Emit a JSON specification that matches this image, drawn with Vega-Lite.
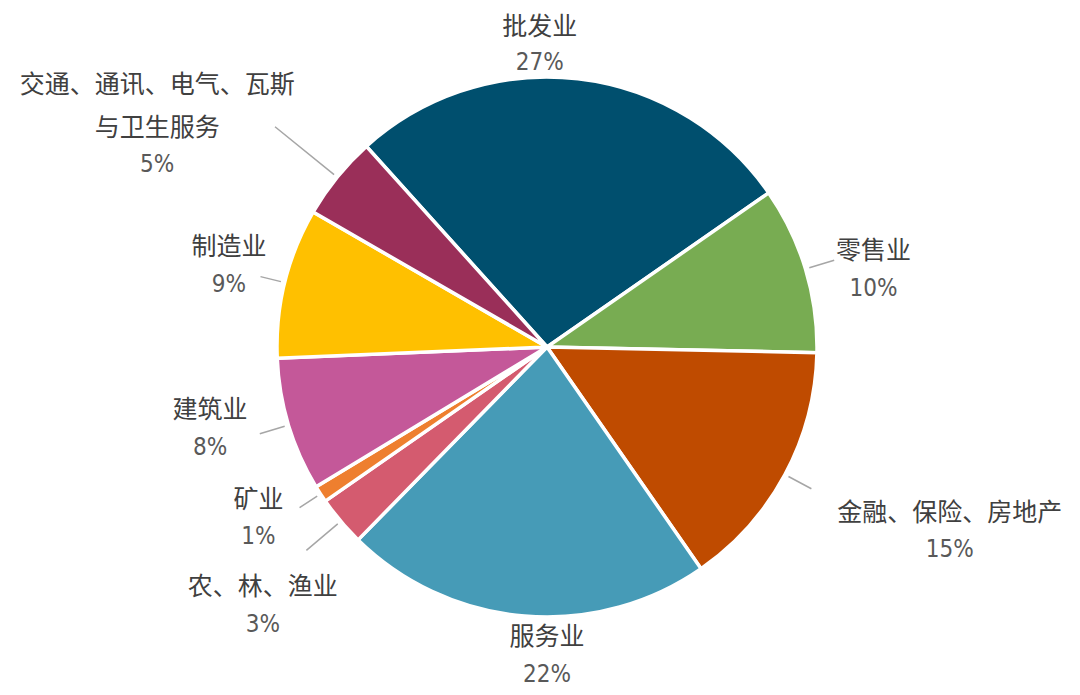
{
  "$schema": "https://vega.github.io/schema/vega-lite/v6.json",
  "width": 1066,
  "height": 694,
  "autosize": {"type": "none"},
  "padding": {"left": 14, "top": 0, "right": 0, "bottom": 0},
  "background": "white",
  "view": {"stroke": null},
  "data": {
    "values": [
      {"idx": 1, "name": "批发业", "value": 27, "label": "27%"},
      {"idx": 2, "name": "零售业", "value": 10, "label": "10%"},
      {"idx": 3, "name": "金融、保险、房地产", "value": 15, "label": "15%"},
      {"idx": 4, "name": "服务业", "value": 22, "label": "22%"},
      {"idx": 5, "name": "农、林、渔业", "value": 3, "label": "3%"},
      {"idx": 6, "name": "矿业", "value": 1, "label": "1%"},
      {"idx": 7, "name": "建筑业", "value": 8, "label": "8%"},
      {"idx": 8, "name": "制造业", "value": 9, "label": "9%"},
      {"idx": 9, "name": "交通、通讯、电气、瓦斯\n与卫生服务", "value": 5, "label": "5%"}
    ]
  },
  "encoding": {
    "theta": {"field": "value", "type": "quantitative", "stack": true, "scale": {"range": [-0.733, 5.5502]}},
    "order": {"field": "idx", "type": "quantitative"}
  },
  "layer": [
    {
      "mark": {"type": "arc", "radius": 270, "stroke": "white", "strokeWidth": 3.5},
      "encoding": {
        "color": {
          "field": "idx", "type": "nominal", "legend": null,
          "scale": {"domain": [1,2,3,4,5,6,7,8,9], "range": ["#004F6E", "#78AC52", "#BF4B00", "#469BB7", "#D45B6F", "#EE7F2F", "#C45899", "#FFC000", "#9A2F59"]}
        }
      }
    },
    {"mark": {"type": "arc", "radius": 300, "radius2": 274, "padAngle": 3, "fill": null, "stroke": "#A6A6A6", "strokeWidth": 1.5},
     "encoding": {"detail": {"field": "idx"}, "strokeOpacity": {"condition": {"test": "indexof([2,3,7], datum.idx) >= 0", "value": 1}, "value": 0}}},
    {"mark": {"type": "arc", "radius": 295, "radius2": 274, "padAngle": 3, "fill": null, "stroke": "#A6A6A6", "strokeWidth": 1.5},
     "encoding": {"detail": {"field": "idx"}, "strokeOpacity": {"condition": {"test": "indexof([6,8], datum.idx) >= 0", "value": 1}, "value": 0}}},
    {"mark": {"type": "arc", "radius": 315, "radius2": 274, "padAngle": 3, "fill": null, "stroke": "#A6A6A6", "strokeWidth": 1.5},
     "encoding": {"detail": {"field": "idx"}, "strokeOpacity": {"condition": {"test": "datum.idx === 5", "value": 1}, "value": 0}}},
    {"mark": {"type": "arc", "radius": 350, "radius2": 274, "padAngle": 3, "fill": null, "stroke": "#A6A6A6", "strokeWidth": 1.5},
     "encoding": {"detail": {"field": "idx"}, "strokeOpacity": {"condition": {"test": "datum.idx === 9", "value": 1}, "value": 0}}},

    {"mark": {"type": "text", "radius": 302, "dx": -42, "dy": -20, "align": "center", "baseline": "middle", "font": "Noto Sans CJK SC", "fontSize": 25, "color": "#404040"},
     "encoding": {"detail": {"field": "idx"}, "text": {"field": "name"}, "opacity": {"condition": {"test": "datum.idx === 1", "value": 1}, "value": 0}}},
    {"mark": {"type": "text", "radius": 302, "dx": -42, "dy": 16, "align": "center", "baseline": "middle", "font": "'Liberation Sans Narrow', 'DejaVu Sans Condensed', 'Liberation Sans', sans-serif", "fontSize": 24, "color": "#595959"},
     "encoding": {"detail": {"field": "idx"}, "text": {"field": "label"}, "opacity": {"condition": {"test": "datum.idx === 1", "value": 1}, "value": 0}}},

    {"mark": {"type": "text", "radius": 341, "dx": 0, "dy": 3, "align": "center", "baseline": "middle", "font": "Noto Sans CJK SC", "fontSize": 25, "color": "#404040"},
     "encoding": {"detail": {"field": "idx"}, "text": {"field": "name"}, "opacity": {"condition": {"test": "datum.idx === 2", "value": 1}, "value": 0}}},
    {"mark": {"type": "text", "radius": 341, "dx": 0, "dy": 41, "align": "center", "baseline": "middle", "font": "'Liberation Sans Narrow', 'DejaVu Sans Condensed', 'Liberation Sans', sans-serif", "fontSize": 24, "color": "#595959"},
     "encoding": {"detail": {"field": "idx"}, "text": {"field": "label"}, "opacity": {"condition": {"test": "datum.idx === 2", "value": 1}, "value": 0}}},

    {"mark": {"type": "text", "radius": 390, "dx": 59, "dy": -18, "align": "center", "baseline": "middle", "font": "Noto Sans CJK SC", "fontSize": 25, "color": "#404040"},
     "encoding": {"detail": {"field": "idx"}, "text": {"field": "name"}, "opacity": {"condition": {"test": "datum.idx === 3", "value": 1}, "value": 0}}},
    {"mark": {"type": "text", "radius": 390, "dx": 59, "dy": 19, "align": "center", "baseline": "middle", "font": "'Liberation Sans Narrow', 'DejaVu Sans Condensed', 'Liberation Sans', sans-serif", "fontSize": 24, "color": "#595959"},
     "encoding": {"detail": {"field": "idx"}, "text": {"field": "label"}, "opacity": {"condition": {"test": "datum.idx === 3", "value": 1}, "value": 0}}},

    {"mark": {"type": "text", "radius": 310, "dx": 26, "dy": -19, "align": "center", "baseline": "middle", "font": "Noto Sans CJK SC", "fontSize": 25, "color": "#404040"},
     "encoding": {"detail": {"field": "idx"}, "text": {"field": "name"}, "opacity": {"condition": {"test": "datum.idx === 4", "value": 1}, "value": 0}}},
    {"mark": {"type": "text", "radius": 310, "dx": 26, "dy": 19, "align": "center", "baseline": "middle", "font": "'Liberation Sans Narrow', 'DejaVu Sans Condensed', 'Liberation Sans', sans-serif", "fontSize": 24, "color": "#595959"},
     "encoding": {"detail": {"field": "idx"}, "text": {"field": "label"}, "opacity": {"condition": {"test": "datum.idx === 4", "value": 1}, "value": 0}}},

    {"mark": {"type": "text", "radius": 372, "dx": 0, "dy": 0, "align": "center", "baseline": "middle", "font": "Noto Sans CJK SC", "fontSize": 25, "color": "#404040"},
     "encoding": {"detail": {"field": "idx"}, "text": {"field": "name"}, "opacity": {"condition": {"test": "datum.idx === 5", "value": 1}, "value": 0}}},
    {"mark": {"type": "text", "radius": 372, "dx": 0, "dy": 38, "align": "center", "baseline": "middle", "font": "'Liberation Sans Narrow', 'DejaVu Sans Condensed', 'Liberation Sans', sans-serif", "fontSize": 24, "color": "#595959"},
     "encoding": {"detail": {"field": "idx"}, "text": {"field": "label"}, "opacity": {"condition": {"test": "datum.idx === 5", "value": 1}, "value": 0}}},

    {"mark": {"type": "text", "radius": 344, "dx": 0, "dy": -34, "align": "center", "baseline": "middle", "font": "Noto Sans CJK SC", "fontSize": 25, "color": "#404040"},
     "encoding": {"detail": {"field": "idx"}, "text": {"field": "name"}, "opacity": {"condition": {"test": "datum.idx === 6", "value": 1}, "value": 0}}},
    {"mark": {"type": "text", "radius": 344, "dx": 0, "dy": 3, "align": "center", "baseline": "middle", "font": "'Liberation Sans Narrow', 'DejaVu Sans Condensed', 'Liberation Sans', sans-serif", "fontSize": 24, "color": "#595959"},
     "encoding": {"detail": {"field": "idx"}, "text": {"field": "label"}, "opacity": {"condition": {"test": "datum.idx === 6", "value": 1}, "value": 0}}},

    {"mark": {"type": "text", "radius": 352, "dx": 0, "dy": -39, "align": "center", "baseline": "middle", "font": "Noto Sans CJK SC", "fontSize": 25, "color": "#404040"},
     "encoding": {"detail": {"field": "idx"}, "text": {"field": "name"}, "opacity": {"condition": {"test": "datum.idx === 7", "value": 1}, "value": 0}}},
    {"mark": {"type": "text", "radius": 352, "dx": 0, "dy": -1, "align": "center", "baseline": "middle", "font": "'Liberation Sans Narrow', 'DejaVu Sans Condensed', 'Liberation Sans', sans-serif", "fontSize": 24, "color": "#595959"},
     "encoding": {"detail": {"field": "idx"}, "text": {"field": "label"}, "opacity": {"condition": {"test": "datum.idx === 7", "value": 1}, "value": 0}}},

    {"mark": {"type": "text", "radius": 327.5, "dx": 0, "dy": -22, "align": "center", "baseline": "middle", "font": "Noto Sans CJK SC", "fontSize": 25, "color": "#404040"},
     "encoding": {"detail": {"field": "idx"}, "text": {"field": "name"}, "opacity": {"condition": {"test": "datum.idx === 8", "value": 1}, "value": 0}}},
    {"mark": {"type": "text", "radius": 327.5, "dx": 0, "dy": 16, "align": "center", "baseline": "middle", "font": "'Liberation Sans Narrow', 'DejaVu Sans Condensed', 'Liberation Sans', sans-serif", "fontSize": 24, "color": "#595959"},
     "encoding": {"detail": {"field": "idx"}, "text": {"field": "label"}, "opacity": {"condition": {"test": "datum.idx === 8", "value": 1}, "value": 0}}},

    {"mark": {"type": "text", "radius": 400, "dx": -79, "dy": -10, "align": "center", "baseline": "middle", "lineBreak": "\n", "lineHeight": 43, "font": "Noto Sans CJK SC", "fontSize": 25, "color": "#404040"},
     "encoding": {"detail": {"field": "idx"}, "text": {"field": "name"}, "opacity": {"condition": {"test": "datum.idx === 9", "value": 1}, "value": 0}}},
    {"mark": {"type": "text", "radius": 400, "dx": -79, "dy": 70, "align": "center", "baseline": "middle", "font": "'Liberation Sans Narrow', 'DejaVu Sans Condensed', 'Liberation Sans', sans-serif", "fontSize": 24, "color": "#595959"},
     "encoding": {"detail": {"field": "idx"}, "text": {"field": "label"}, "opacity": {"condition": {"test": "datum.idx === 9", "value": 1}, "value": 0}}}
  ]
}
